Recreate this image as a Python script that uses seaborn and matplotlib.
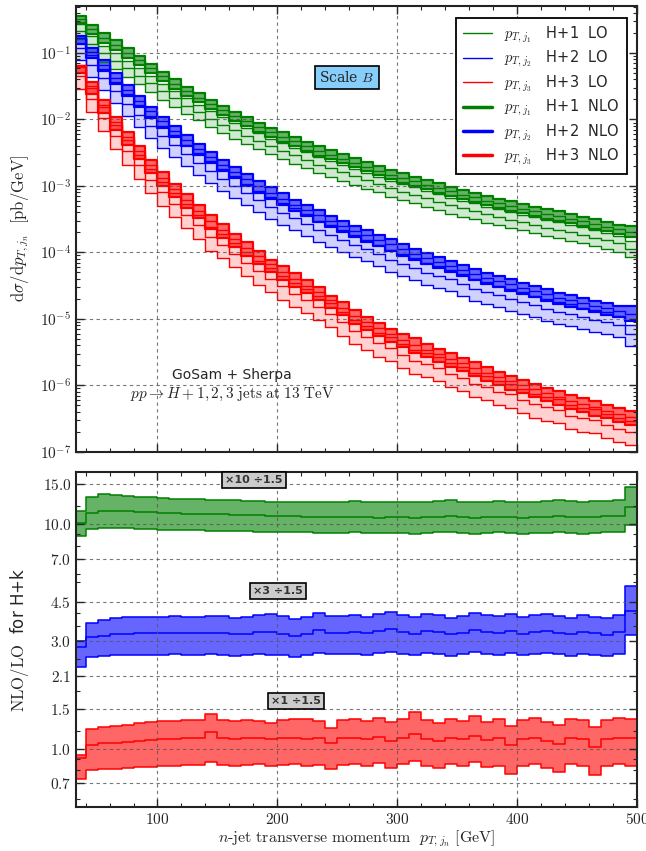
import matplotlib
matplotlib.use("Agg")
import matplotlib.pyplot as plt
from matplotlib.lines import Line2D
from matplotlib.ticker import FixedLocator, FuncFormatter, LogLocator, MultipleLocator, NullFormatter
import seaborn as sns
import numpy as np

# bin edges [GeV]
edges = np.arange(30, 501, 10)

# NLO central values, log10 of dsigma/dpT [pb/GeV], one per 10 GeV bin
nlo_log_h1 = [-0.49, -0.64, -0.77, -0.88, -1.00, -1.11, -1.23, -1.35, -1.46, -1.57,
              -1.67, -1.77, -1.86, -1.95, -2.03, -2.11, -2.19, -2.26, -2.33, -2.40,
              -2.47, -2.53, -2.59, -2.65, -2.71, -2.77, -2.83, -2.88, -2.93, -2.98,
              -3.03, -3.08, -3.13, -3.17, -3.22, -3.26, -3.30, -3.34, -3.38, -3.42,
              -3.45, -3.49, -3.53, -3.57, -3.61, -3.65, -3.69]
nlo_log_h2 = [-0.77, -0.98, -1.18, -1.37, -1.55, -1.72, -1.88, -2.03, -2.17, -2.31,
              -2.44, -2.56, -2.68, -2.79, -2.90, -3.00, -3.10, -3.19, -3.28, -3.36,
              -3.44, -3.52, -3.60, -3.67, -3.74, -3.81, -3.88, -3.95, -4.02, -4.08,
              -4.14, -4.20, -4.26, -4.32, -4.38, -4.43, -4.48, -4.53, -4.58, -4.63,
              -4.68, -4.72, -4.76, -4.80, -4.84, -4.88, -4.92]
nlo_log_h3 = [-1.21, -1.50, -1.78, -2.04, -2.27, -2.48, -2.69, -2.88, -3.05, -3.21,
              -3.37, -3.52, -3.66, -3.80, -3.93, -4.06, -4.18, -4.29, -4.40, -4.50,
              -4.60, -4.72, -4.83, -4.95, -5.05, -5.14, -5.23, -5.31, -5.39, -5.46,
              -5.53, -5.60, -5.67, -5.74, -5.81, -5.88, -5.94, -6.00, -6.06, -6.12,
              -6.17, -6.23, -6.28, -6.33, -6.38, -6.43, -6.48]

# NLO/LO ratio (as shown in lower panel, rescaled), central / upper / lower
ratio_h1 = [10.1, 11.2, 11.4, 11.4, 11.35, 11.3, 11.25, 11.2, 11.15, 11.1,
            11.05, 11.0, 11.0, 10.95, 10.9, 10.9, 10.85, 10.8, 10.8, 10.75,
            10.75, 10.7, 10.7, 10.75, 10.7, 10.65, 10.7, 10.7, 10.65, 10.7,
            10.75, 10.8, 10.7, 10.65, 10.7, 10.75, 10.7, 10.65, 10.7, 10.75,
            10.8, 10.75, 10.7, 10.75, 10.8, 10.85, 11.9]
ratio_h1_up = [11.4, 13.1, 13.5, 13.4, 13.3, 13.2, 13.1, 13.0, 12.95, 12.9,
               12.85, 12.8, 12.75, 12.7, 12.65, 12.6, 12.55, 12.55, 12.5, 12.5,
               12.5, 12.45, 12.5, 12.6, 12.5, 12.45, 12.5, 12.55, 12.5, 12.5,
               12.6, 12.7, 12.55, 12.5, 12.55, 12.6, 12.55, 12.5, 12.55, 12.6,
               12.75, 12.65, 12.55, 12.6, 12.65, 12.7, 14.6]
ratio_h1_dn = [8.8, 9.5, 9.6, 9.6, 9.55, 9.5, 9.45, 9.4, 9.4, 9.35,
               9.35, 9.3, 9.3, 9.25, 9.25, 9.2, 9.2, 9.15, 9.15, 9.15,
               9.1, 9.1, 9.1, 9.15, 9.1, 9.1, 9.1, 9.1, 9.05, 9.1,
               9.15, 9.15, 9.1, 9.05, 9.1, 9.15, 9.1, 9.05, 9.1, 9.1,
               9.15, 9.1, 9.05, 9.1, 9.15, 9.2, 9.9]

ratio_h2 = [2.83, 3.14, 3.17, 3.22, 3.25, 3.26, 3.27, 3.27, 3.28, 3.27,
            3.27, 3.28, 3.27, 3.22, 3.25, 3.30, 3.30, 3.25, 3.17, 3.25,
            3.38, 3.28, 3.28, 3.30, 3.26, 3.32, 3.40, 3.30, 3.25, 3.35,
            3.30, 3.22, 3.28, 3.36, 3.30, 3.27, 3.32, 3.25, 3.30, 3.35,
            3.28, 3.22, 3.30, 3.26, 3.20, 3.30, 4.10]
ratio_h2_up = [3.0, 3.62, 3.72, 3.80, 3.83, 3.85, 3.86, 3.86, 3.87, 3.86,
               3.86, 3.88, 3.87, 3.80, 3.84, 3.93, 3.97, 3.88, 3.76, 3.86,
               3.99, 3.88, 3.88, 3.92, 3.85, 3.95, 4.05, 3.92, 3.85, 3.98,
               3.92, 3.82, 3.90, 4.00, 3.92, 3.88, 3.95, 3.86, 3.92, 3.98,
               3.90, 3.82, 3.92, 3.86, 3.80, 3.92, 5.30]
ratio_h2_dn = [2.31, 2.55, 2.57, 2.60, 2.61, 2.62, 2.62, 2.62, 2.63, 2.62,
               2.62, 2.63, 2.62, 2.58, 2.60, 2.63, 2.60, 2.60, 2.56, 2.62,
               2.67, 2.63, 2.63, 2.64, 2.61, 2.65, 2.70, 2.64, 2.60, 2.67,
               2.64, 2.58, 2.63, 2.68, 2.64, 2.62, 2.65, 2.60, 2.64, 2.67,
               2.63, 2.58, 2.64, 2.61, 2.57, 2.63, 3.20]

ratio_h3 = [0.905, 1.04, 1.056, 1.06, 1.075, 1.085, 1.093, 1.10, 1.105, 1.11,
            1.11, 1.19, 1.11, 1.10, 1.11, 1.12, 1.10, 1.11, 1.12, 1.10,
            1.11, 1.06, 1.11, 1.12, 1.10, 1.13, 1.08, 1.12, 1.16, 1.10,
            1.08, 1.12, 1.10, 1.14, 1.09, 1.11, 1.04, 1.10, 1.12, 1.08,
            1.05, 1.12, 1.10, 1.02, 1.10, 1.12, 1.11]
ratio_h3_up = [0.94, 1.22, 1.25, 1.26, 1.28, 1.30, 1.32, 1.33, 1.33, 1.34,
               1.34, 1.43, 1.34, 1.33, 1.34, 1.33, 1.30, 1.34, 1.36, 1.35,
               1.33, 1.23, 1.34, 1.36, 1.33, 1.37, 1.31, 1.36, 1.45, 1.34,
               1.30, 1.36, 1.33, 1.40, 1.32, 1.35, 1.26, 1.34, 1.37, 1.31,
               1.28, 1.36, 1.34, 1.25, 1.34, 1.37, 1.36]
ratio_h3_dn = [0.73, 0.80, 0.81, 0.815, 0.82, 0.825, 0.83, 0.835, 0.84, 0.845,
               0.845, 0.875, 0.845, 0.84, 0.845, 0.85, 0.84, 0.845, 0.85, 0.84,
               0.845, 0.815, 0.845, 0.85, 0.84, 0.86, 0.82, 0.85, 0.88, 0.84,
               0.82, 0.85, 0.84, 0.87, 0.83, 0.84, 0.77, 0.84, 0.85, 0.82,
               0.79, 0.85, 0.84, 0.76, 0.84, 0.85, 0.84]

ratio_scale = [10 / 1.5, 3 / 1.5, 1 / 1.5]
ratio_tags = ["×10 ÷1.5", "×3 ÷1.5", "×1 ÷1.5"]
# LO scale band (relative up / down factors)
lo_band_up = [1.30, 1.40, 1.45]
lo_band_dn = [0.75, 0.66, 0.63]

colors = ["#008000", "#0000ff", "#ff0000"]
names = ["H+1", "H+2", "H+3"]

sns.set_style("ticks")
plt.rcParams["mathtext.fontset"] = "cm"
plt.rcParams["font.family"] = ["DejaVu Sans"]

fig = plt.figure(figsize=(6.46, 8.51), dpi=100)
ax1 = fig.add_axes([0.1176, 0.469, 0.8684, 0.524])
ax2 = fig.add_axes([0.1176, 0.0517, 0.8684, 0.3937])


def ext(v):
    v = np.asarray(v, dtype=float)
    return np.append(v, v[-1])


def step_line(ax, y, color, lw):
    sns.lineplot(x=edges, y=ext(y), ax=ax, color=color, lw=lw,
                 drawstyle="steps-post", estimator=None, sort=False)


nlo_logs = [nlo_log_h1, nlo_log_h2, nlo_log_h3]
ratios = [(ratio_h1, ratio_h1_up, ratio_h1_dn),
          (ratio_h2, ratio_h2_up, ratio_h2_dn),
          (ratio_h3, ratio_h3_up, ratio_h3_dn)]

for i in range(3):
    c = colors[i]
    r_c, r_up, r_dn = [np.asarray(a) for a in ratios[i]]
    nlo = 10 ** np.asarray(nlo_logs[i])
    lo = nlo * ratio_scale[i] / r_c
    nlo_up = nlo * r_up / r_c
    nlo_dn = nlo * r_dn / r_c
    lo_up = lo * lo_band_up[i]
    lo_dn = lo * lo_band_dn[i]

    # LO band (light)
    ax1.fill_between(edges, ext(lo_dn), ext(lo_up), step="post", color=c, alpha=0.18, lw=0)
    for y in (lo_up, lo, lo_dn):
        step_line(ax1, y, c, 1.0)
    # NLO band (dark)
    ax1.fill_between(edges, ext(nlo_dn), ext(nlo_up), step="post", color=c, alpha=0.6, lw=0)
    for y in (nlo_up, nlo_dn):
        step_line(ax1, y, c, 1.6)
    step_line(ax1, nlo, c, 1.0)

    # ratio panel
    ax2.fill_between(edges, ext(r_dn), ext(r_up), step="post", color=c, alpha=0.6, lw=0)
    for y in (r_up, r_c, r_dn):
        step_line(ax2, y, c, 1.1)

# ---- top panel styling
ax1.set_yscale("log")
ax1.set_xlim(32, 500)
ax1.set_ylim(1e-7, 0.51)
ax1.set_yticks([1e-7, 1e-6, 1e-5, 1e-4, 1e-3, 1e-2, 1e-1])
ax1.yaxis.set_major_formatter(FuncFormatter(
    lambda v, p: r"$10^{%d}$" % int(round(np.log10(v))) if v < 0.5 else ""))
ax1.yaxis.set_minor_locator(LogLocator(base=10, subs=np.arange(2, 10)))
ax1.yaxis.set_minor_formatter(NullFormatter())
ax1.set_ylabel(r"$\mathrm{d}\sigma/\mathrm{d}p_{T,j_n}\ \ [\mathrm{pb/GeV}]$", fontsize=12, labelpad=6)
ax1.tick_params(labelbottom=False)

# ---- bottom panel styling
ax2.set_yscale("log")
ax2.set_xlim(32, 500)
ax2.set_ylim(0.55, 17.0)
rticks = [0.7, 1.0, 1.5, 2.1, 3.0, 4.5, 7.0, 10.0, 15.0]
ax2.yaxis.set_major_locator(FixedLocator(rticks))
ax2.yaxis.set_major_formatter(FuncFormatter(lambda v, p: r"$%.1f$" % v))
ax2.yaxis.set_minor_locator(FixedLocator([0.6, 0.8, 0.9, 1.2, 1.8, 2.5, 3.5, 4.0, 5.5, 6.0, 8.0, 9.0, 12.0]))
ax2.yaxis.set_minor_formatter(NullFormatter())
ax2.set_ylabel(r"$\mathrm{NLO/LO}$  for H+k", fontsize=12, labelpad=8)
ax2.set_xlabel(r"$n\mathrm{\text{-}jet\ transverse\ momentum}\ \ p_{T,j_n}\ [\mathrm{GeV}]$",
               fontsize=11.5, labelpad=1)

for ax in (ax1, ax2):
    ax.xaxis.set_major_locator(FixedLocator([100, 200, 300, 400, 500]))
    ax.xaxis.set_minor_locator(MultipleLocator(20))
    ax.xaxis.set_major_formatter(FuncFormatter(lambda v, p: r"$%d$" % v))
    ax.tick_params(which="both", direction="in", top=True, right=True, labelsize=11)
    ax.tick_params(which="major", length=6, width=1.0)
    ax.tick_params(which="minor", length=3, width=0.8)
    ax.grid(True, which="major", ls=(0, (3, 3)), color="#555555", lw=0.8, alpha=0.8)
    for s in ax.spines.values():
        s.set_linewidth(1.5)
        s.set_color("#222222")
    ax.set_axisbelow(False)

# legend
handles = []
labels = []
for lw, order in ((1.0, "LO"), (2.5, "NLO")):
    for i in range(3):
        handles.append(Line2D([], [], color=colors[i], lw=lw))
        labels.append(r"$p_{T,j_%d}$   %s  %s" % (i + 1, names[i], order))
leg = ax1.legend(handles, labels, loc="upper right", fontsize=10.5, frameon=True,
                 fancybox=False, borderpad=0.5, labelspacing=0.3, handlelength=2.0,
                 bbox_to_anchor=(0.995, 0.99))
leg.get_frame().set_edgecolor("black")
leg.get_frame().set_linewidth(1.3)
leg.get_frame().set_alpha(1.0)

ax1.text(0.483, 0.839, r"Scale $B$", transform=ax1.transAxes, ha="center", va="center",
         fontsize=10, family="serif",
         bbox=dict(boxstyle="square,pad=0.3", fc="#87cefa", ec="black", lw=1.2))
ax1.text(0.278, 0.173, "GoSam + Sherpa", transform=ax1.transAxes, ha="center", va="center",
         fontsize=10)
ax1.text(0.278, 0.128, r"$pp \to H + 1, 2, 3\ \mathrm{jets\ at\ 13\ TeV}$", transform=ax1.transAxes,
         ha="center", va="center", fontsize=11)

tag_pos = [(0.317, 0.976), (0.36, 0.645), (0.392, 0.316)]
for (tx, ty), t in zip(tag_pos, ratio_tags):
    ax2.text(tx, ty, t, transform=ax2.transAxes, ha="center", va="center", fontsize=8,
             fontweight="bold", color="#333333",
             bbox=dict(boxstyle="square,pad=0.3", fc="#cccccc", ec="black", lw=1.2))

fig.savefig("out.png", dpi=100)
